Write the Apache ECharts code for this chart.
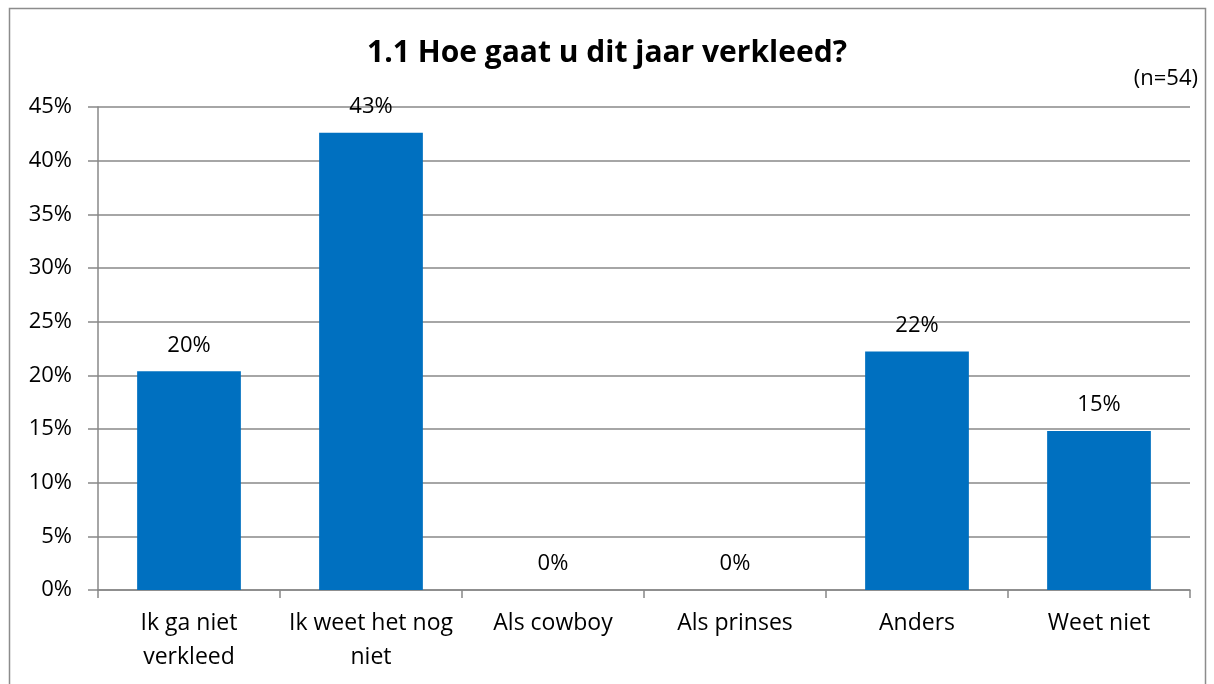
<!DOCTYPE html>
<html><head><meta charset="utf-8">
<script src="https://cdn.jsdelivr.net/npm/echarts@6/dist/echarts.min.js"></script>
<style>html,body{margin:0;padding:0;background:#fff}#c{width:1214px;height:684px}</style>
</head><body><div id="c"></div>
<script>
const categories = ["Ik ga niet\nverkleed", "Ik weet het nog\nniet", "Als cowboy", "Als prinses", "Anders", "Weet niet"];
const values = [20.37, 42.59, 0, 0, 22.22, 14.81];
const yTicks = [0, 5, 10, 15, 20, 25, 30, 35, 40, 45];
const titleText = "1.1 Hoe gaat u dit jaar verkleed?";
const noteText = "(n=54)";
const FONT = "Open Sans";
const chart = echarts.init(document.getElementById('c'), null, {renderer: 'canvas'});
chart.setOption({
  animation: false,
  textStyle: {fontFamily: FONT},
  graphic: [
    {type: 'rect', shape: {x: 9.5, y: 8.5, width: 1196, height: 700}, style: {fill: 'none', stroke: '#8c8c8c', lineWidth: 1.5}, silent: true},
    {type: 'text', right: 16, top: 68, style: {text: noteText, font: '22px ' + FONT, fill: '#000'}}
  ],
  title: {text: titleText, left: 'center', top: 33, textStyle: {fontFamily: FONT, fontWeight: 'bold', fontSize: 30, color: '#000'}},
  grid: {left: 98, right: 24, top: 107, bottom: 94, containLabel: false},
  xAxis: {
    type: 'category', data: categories,
    axisLine: {lineStyle: {color: '#888', width: 1.5}},
    axisTick: {show: true, length: 8, lineStyle: {color: '#888', width: 1.5}},
    axisLabel: {color: '#000', fontSize: 23, fontFamily: FONT, lineHeight: 34, margin: 16, interval: 0}
  },
  yAxis: {
    type: 'value', min: yTicks[0], max: yTicks[yTicks.length - 1], interval: 5,
    axisLine: {show: true, lineStyle: {color: '#888', width: 1.5}},
    axisTick: {show: true, length: 10, lineStyle: {color: '#888', width: 1.5}},
    splitLine: {lineStyle: {color: '#888', width: 1.5}},
    axisLabel: {color: '#000', fontSize: 22, fontFamily: FONT, margin: 26, formatter: v => v + '%'}
  },
  series: [{
    type: 'bar', data: values, barWidth: '57%',
    itemStyle: {color: '#0070C0'},
    label: {show: true, position: 'top', distance: 15, color: '#000', fontSize: 22, fontFamily: FONT, formatter: p => Math.round(p.value) + '%'}
  }]
});
</script></body></html>
